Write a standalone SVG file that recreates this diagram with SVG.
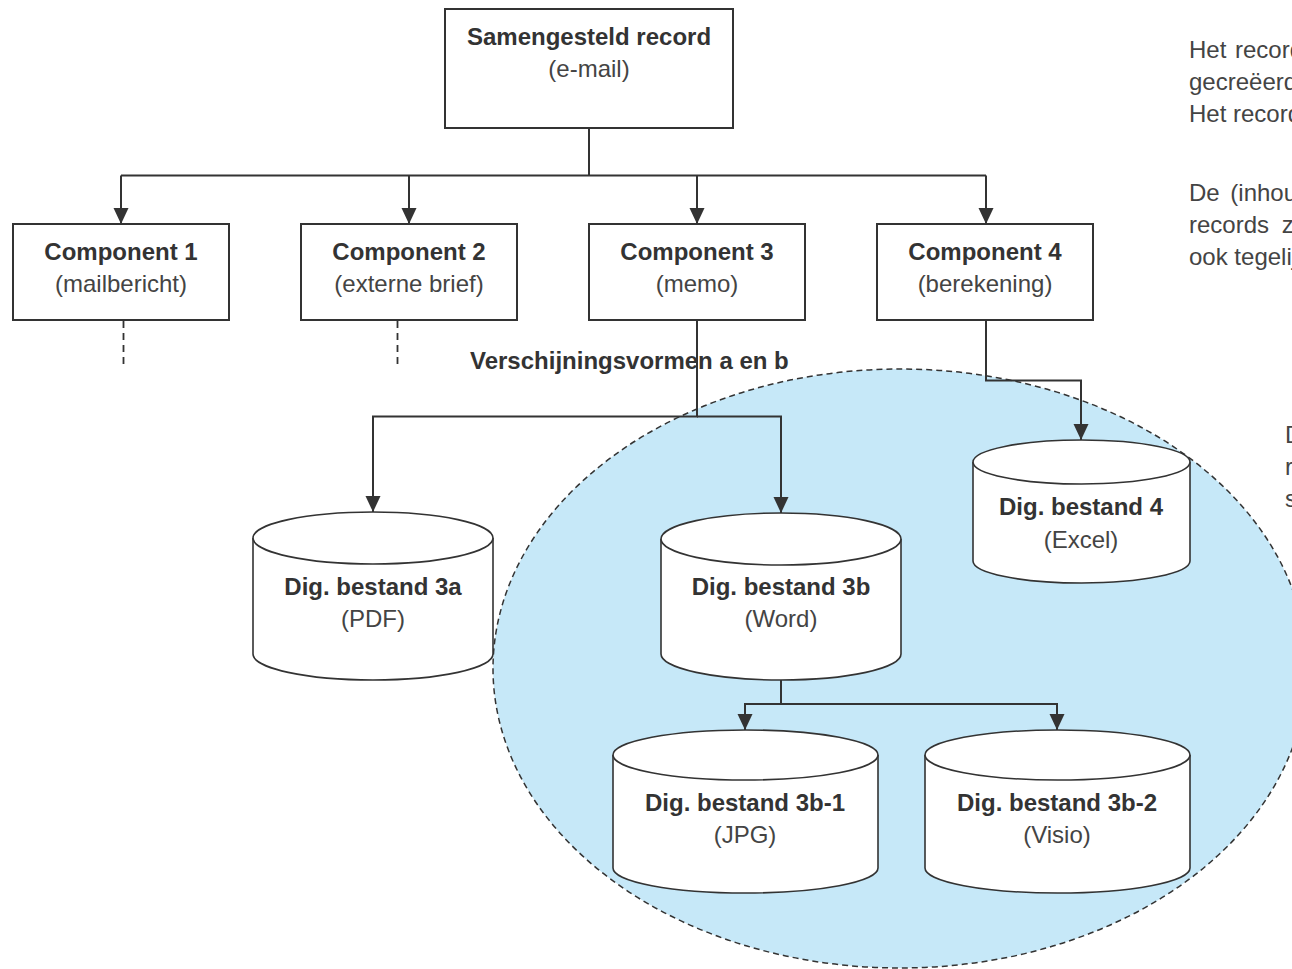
<svg xmlns="http://www.w3.org/2000/svg" width="1292" height="969" viewBox="0 0 1292 969">
<defs>
<marker id="arr" viewBox="0 0 16 16" markerWidth="16" markerHeight="16" refX="16" refY="8" orient="auto" markerUnits="userSpaceOnUse">
<path d="M0,0.5 L16,8 L0,15.5 Z" fill="#333"/>
</marker>
<style>
.box{fill:#fff;stroke:#333;stroke-width:2}
.cyl{fill:#fff;stroke:#333;stroke-width:1.6}
.ln{fill:none;stroke:#333;stroke-width:2}
.dash{fill:none;stroke:#333;stroke-width:1.8;stroke-dasharray:7 5}
.t{font-family:"Liberation Sans",Arial,sans-serif;font-size:24px;text-anchor:middle}
.b{font-weight:bold;fill:#333}
.r{fill:#444}
.side{font-family:"Liberation Sans",Arial,sans-serif;font-size:24px;fill:#444}
</style>
</defs>
<rect width="1292" height="969" fill="#fff"/>

<g id="region">
<ellipse cx="900" cy="668.5" rx="407" ry="299.5" fill="#c6e8f8" stroke="#333" stroke-width="1.5" stroke-dasharray="6 4"/>
</g>

<g id="label-verschijningsvormen">
<text x="470" y="369" class="t b" style="text-anchor:start">Verschijningsvormen a en b</text>
</g>

<g id="connectors">
<path class="ln" d="M589,128 V175.5"/>
<path class="ln" d="M121,175.5 H986"/>
<path class="ln" d="M121,175.5 V224" marker-end="url(#arr)"/>
<path class="ln" d="M409,175.5 V224" marker-end="url(#arr)"/>
<path class="ln" d="M697,175.5 V224" marker-end="url(#arr)"/>
<path class="ln" d="M986,175.5 V224" marker-end="url(#arr)"/>
<path class="dash" d="M123.5,321 V369"/>
<path class="dash" d="M397.5,321 V369"/>
<path class="ln" d="M697,321 V416.5 H373 V512" marker-end="url(#arr)"/>
<path class="ln" d="M697,416.5 H781 V513" marker-end="url(#arr)"/>
<path class="ln" d="M986,321 V380.5 H1081 V440" marker-end="url(#arr)"/>
<path class="ln" d="M781,680 V704 H745 V730" marker-end="url(#arr)"/>
<path class="ln" d="M781,704 H1057 V730" marker-end="url(#arr)"/>
</g>

<g id="record">
<rect class="box" x="445" y="9" width="288" height="119"/>
<text x="589" y="45" class="t b">Samengesteld record</text>
<text x="589" y="77" class="t r">(e-mail)</text>
</g>

<g id="component1">
<rect class="box" x="13" y="224" width="216" height="96"/>
<text x="121" y="260" class="t b">Component 1</text>
<text x="121" y="292" class="t r">(mailbericht)</text>
</g>
<g id="component2">
<rect class="box" x="301" y="224" width="216" height="96"/>
<text x="409" y="260" class="t b">Component 2</text>
<text x="409" y="292" class="t r">(externe brief)</text>
</g>
<g id="component3">
<rect class="box" x="589" y="224" width="216" height="96"/>
<text x="697" y="260" class="t b">Component 3</text>
<text x="697" y="292" class="t r">(memo)</text>
</g>
<g id="component4">
<rect class="box" x="877" y="224" width="216" height="96"/>
<text x="985" y="260" class="t b">Component 4</text>
<text x="985" y="292" class="t r">(berekening)</text>
</g>

<g id="bestand3a">
<path class="cyl" d="M253,538 A120,26 0 0 1 493,538 V654 A120,26 0 0 1 253,654 Z"/>
<path class="cyl" d="M253,538 A120,26 0 0 0 493,538" fill="none"/>
<text x="373" y="595" class="t b">Dig. bestand 3a</text>
<text x="373" y="627" class="t r">(PDF)</text>
</g>
<g id="bestand3b">
<path class="cyl" d="M661,539 A120,26 0 0 1 901,539 V654 A120,26 0 0 1 661,654 Z"/>
<path class="cyl" d="M661,539 A120,26 0 0 0 901,539" fill="none"/>
<text x="781" y="595" class="t b">Dig. bestand 3b</text>
<text x="781" y="627" class="t r">(Word)</text>
</g>
<g id="bestand4">
<path class="cyl" d="M973,462 A108.5,22 0 0 1 1190,462 V561 A108.5,22 0 0 1 973,561 Z"/>
<path class="cyl" d="M973,462 A108.5,22 0 0 0 1190,462" fill="none"/>
<text x="1081" y="515" class="t b">Dig. bestand 4</text>
<text x="1081" y="548" class="t r">(Excel)</text>
</g>
<g id="bestand3b1">
<path class="cyl" d="M613,755 A132.5,25 0 0 1 878,755 V868 A132.5,25 0 0 1 613,868 Z"/>
<path class="cyl" d="M613,755 A132.5,25 0 0 0 878,755" fill="none"/>
<text x="745" y="811" class="t b">Dig. bestand 3b-1</text>
<text x="745" y="843" class="t r">(JPG)</text>
</g>
<g id="bestand3b2">
<path class="cyl" d="M925,755 A132.5,25 0 0 1 1190,755 V868 A132.5,25 0 0 1 925,868 Z"/>
<path class="cyl" d="M925,755 A132.5,25 0 0 0 1190,755" fill="none"/>
<text x="1057" y="811" class="t b">Dig. bestand 3b-2</text>
<text x="1057" y="843" class="t r">(Visio)</text>
</g>

<g id="side-text">
<text class="side" x="1189" y="58" word-spacing="2">Het record</text>
<text class="side" x="1189" y="90">gecreëerd</text>
<text class="side" x="1189" y="122">Het record</text>
<text class="side" x="1189" y="201" word-spacing="4">De (inhoud</text>
<text class="side" x="1189" y="233" word-spacing="6">records z</text>
<text class="side" x="1189" y="265">ook tegelijk</text>
<text class="side" x="1285" y="443">D</text>
<text class="side" x="1285" y="475">r</text>
<text class="side" x="1285" y="507">s</text>
</g>
</svg>
